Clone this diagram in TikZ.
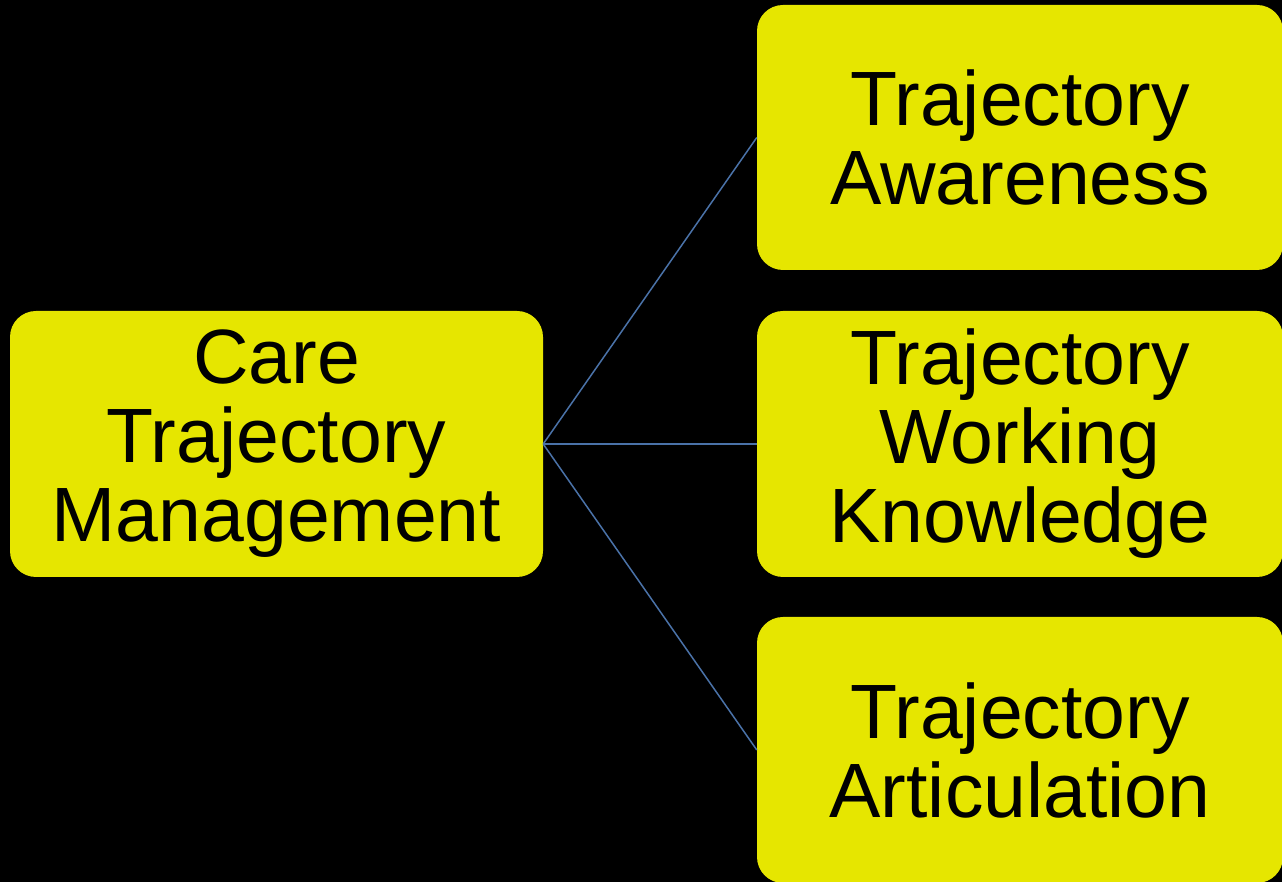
\documentclass[tikz,border=0pt]{standalone}
\usepackage{fontspec}
\setmainfont{Liberation Sans}
\definecolor{boxyellow}{HTML}{E6E600}
\definecolor{linkblue}{HTML}{4A72A8}
\begin{document}
\begin{tikzpicture}[x=1pt,y=1pt,
  cbox/.style={fill=boxyellow, draw=none, rounded corners=26pt, inner sep=0pt,
    minimum width=#1, align=center, text width=520pt,
    font=\fontsize{77pt}{79pt}\selectfont},
  cbox/.default=533pt,
  link/.style={draw=linkblue, line width=1.5pt}]
\fill[black] (0,0) rectangle (1282,882);
\useasboundingbox (0,0) rectangle (1282,882);
\begin{scope}
\clip (0,0) rectangle (1282,882);
\node[cbox, minimum height=266pt] (care) at (276.5,438) {Care\\Trajectory\\Management};
\node[cbox=526pt, minimum height=265pt] (aware) at (1020,744.5) {Trajectory\\Awareness};
\node[cbox=526pt, minimum height=266pt] (work) at (1020,438) {Trajectory\\Working\\Knowledge};
\node[cbox=526pt, minimum height=266pt] (artic) at (1020,132) {Trajectory\\Articulation};
\end{scope}
\draw[link] (care.east) -- (aware.west);
\draw[link] (care.east) -- (work.west);
\draw[link] (care.east) -- (artic.west);
\end{tikzpicture}
\end{document}
